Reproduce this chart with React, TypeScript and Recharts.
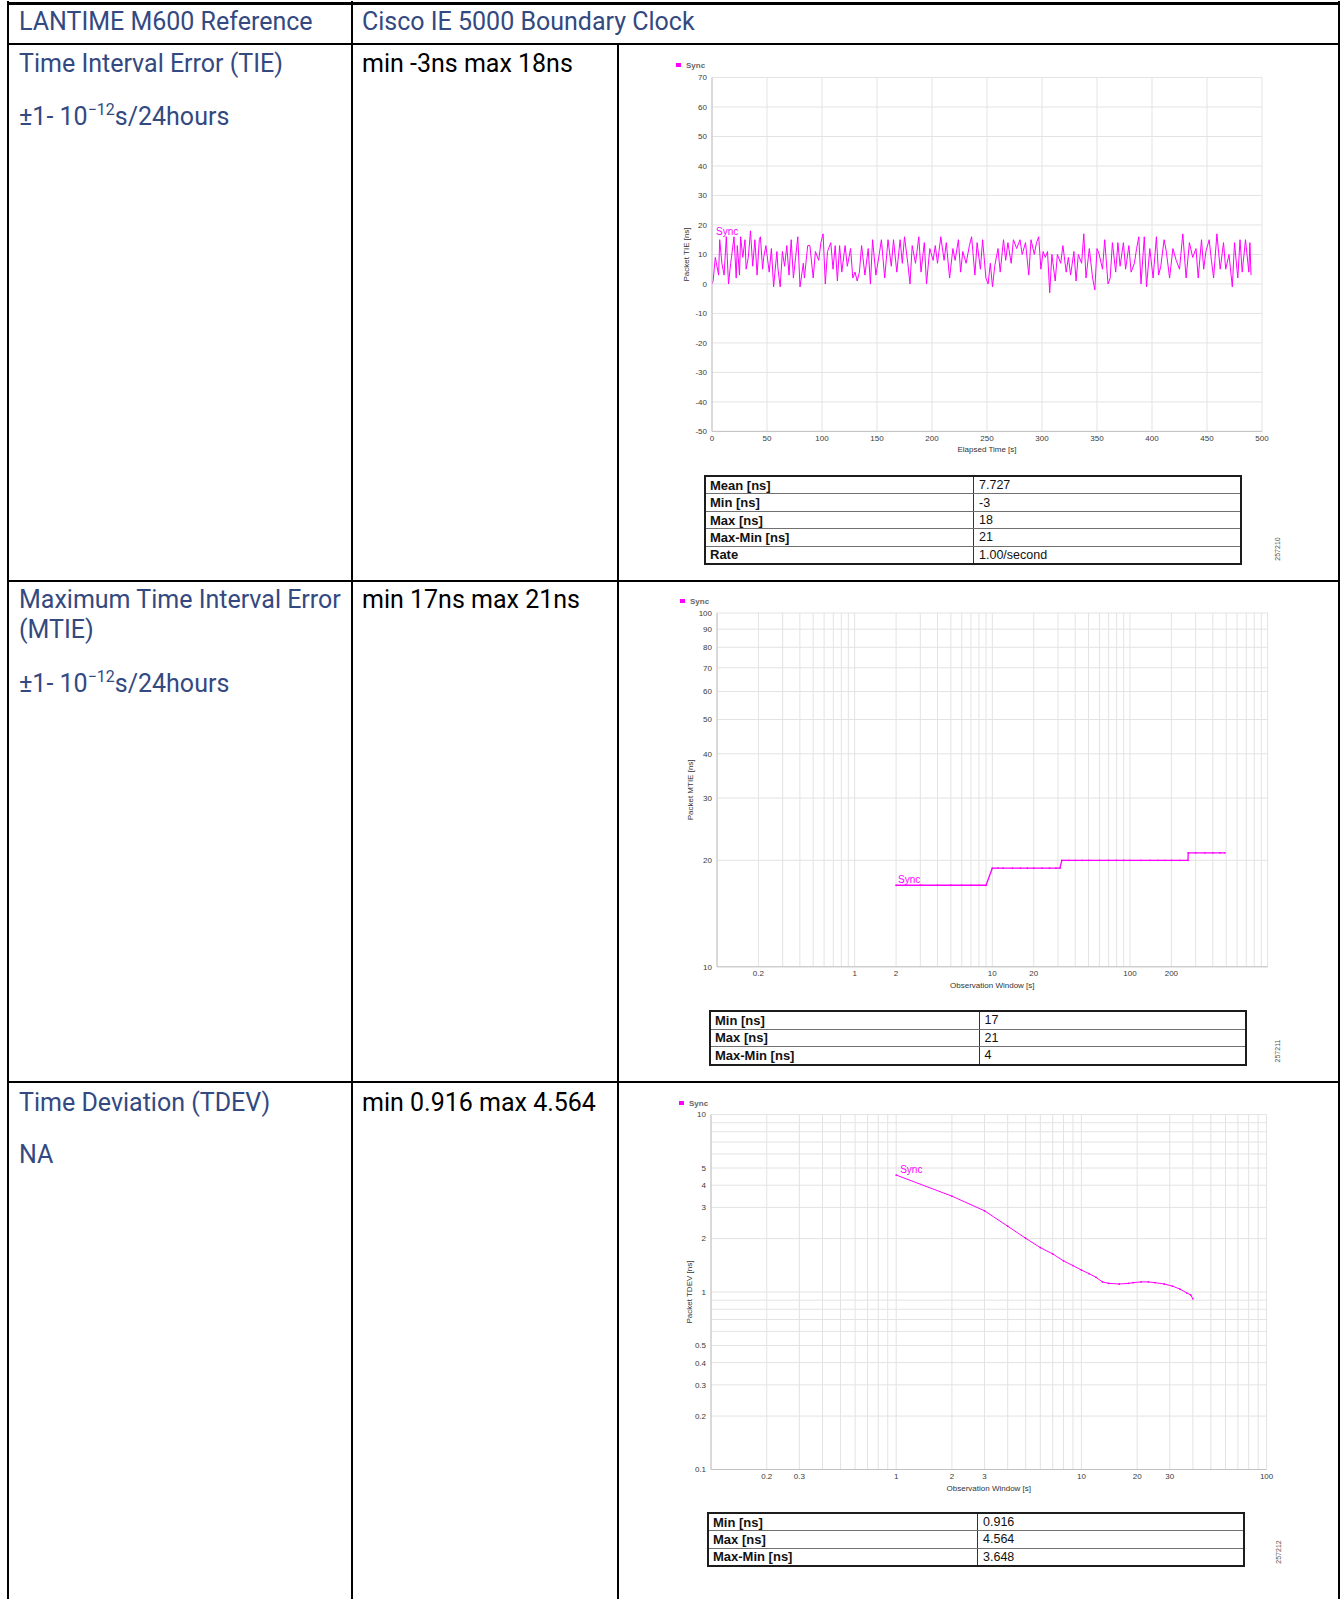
import React from 'react';
import { LineChart, Line, XAxis, YAxis, CartesianGrid } from 'recharts';

const SYNC = '#ff00ff';
const BLUE = '#33497f';
const DOC_FONT = 'Roboto, "Liberation Sans", Arial, sans-serif';
const PLOT_FONT = '"Liberation Sans", Arial, sans-serif';

// TIE: [elapsed time s, TIE ns]
const tiePoints: [number, number][] = [
  [0, 0], [1, 1], [3, 9], [6, 3], [7, 15], [9, 7], [11, 3], [13, 16], [15, 0], [17, 7], [20, 16], [22, 2],
  [23, 13], [25, 3], [26, 16], [28, 9], [30, 15], [31, 5], [33, 9], [35, 18], [37, 6], [39, 15], [41, 3],
  [43, 15], [44, 16], [46, 5], [47, 9], [49, 13], [52, 4], [54, 12], [56, -1], [59, 11], [60, 5], [62, -1],
  [64, 11], [66, 6], [68, 13], [70, 3], [72, 15], [74, 2], [76, 9], [78, 16], [80, -1], [83, 7], [84, 2],
  [87, 13], [89, 13], [92, 2], [94, 11], [97, 8], [99, 14], [101, 17], [103, 0], [105, 11], [108, 14],
  [110, 5], [112, 13], [114, 1], [116, 13], [118, 4], [121, 13], [123, 6], [126, 12], [128, 2], [130, 4],
  [132, 1], [134, 4], [136, 13], [139, 3], [142, 12], [144, 0], [146, 15], [149, 3], [152, 10], [154, 15],
  [157, 2], [160, 15], [163, 6], [165, 15], [168, 4], [171, 15], [173, 7], [175, 16], [178, 7], [180, 0],
  [182, 13], [185, 7], [188, 16], [190, 4], [193, 14], [195, 0], [198, 12], [201, 8], [203, 13], [205, 7],
  [208, 16], [211, 8], [213, 14], [216, 2], [219, 12], [221, 8], [224, 15], [226, 4], [228, 11], [231, 7],
  [234, 13], [236, 16], [239, 3], [241, 14], [244, 5], [246, 15], [249, 2], [251, 0], [253, 7], [255, -1],
  [257, 6], [260, 12], [262, 4], [265, 15], [267, 8], [269, 14], [272, 7], [274, 15], [277, 12], [280, 15],
  [282, 10], [285, 14], [288, 3], [290, 15], [293, 10], [295, 14], [297, 16], [299, 5], [301, 11], [303, 9],
  [305, 11], [307, -3], [309, 10], [312, 1], [314, 10], [317, 7], [319, 13], [322, 4], [324, 9], [326, 3],
  [329, 11], [331, 1], [333, 10], [336, 7], [338, 17], [340, 2], [343, 12], [346, 2], [348, -2], [350, 12],
  [352, 10], [355, 5], [357, 15], [360, 0], [362, 2], [364, 14], [367, 4], [369, 14], [371, 6], [374, 14],
  [376, 5], [379, 13], [381, 4], [384, 7], [386, 12], [388, 16], [390, 0], [393, 16], [395, -1], [398, 12],
  [401, 2], [404, 16], [406, 3], [408, 6], [411, 15], [413, 11], [416, 2], [419, 12], [422, 8], [425, 5],
  [428, 17], [431, 2], [434, 14], [437, 9], [440, 12], [442, 2], [445, 15], [447, 5], [449, 11], [452, 15],
  [454, 8], [456, 2], [459, 17], [462, 5], [465, 14], [467, 5], [470, 10], [473, -1], [475, 14], [478, 2],
  [480, 15], [482, 4], [485, 15], [488, 4], [489, 14], [490, 3],
];
const tieXTicks = [0, 50, 100, 150, 200, 250, 300, 350, 400, 450, 500];
const tieYTicks = [-50, -40, -30, -20, -10, 0, 10, 20, 30, 40, 50, 60, 70];
const tieStats = [
  ['Mean [ns]', '7.727'],
  ['Min [ns]', '-3'],
  ['Max [ns]', '18'],
  ['Max-Min [ns]', '21'],
  ['Rate', '1.00/second'],
];

// MTIE: [observation window s, MTIE ns]
const mtiePoints: [number, number][] = [
  [2, 17], [3, 17], [4, 17], [5, 17], [6, 17], [7, 17], [8, 17], [9, 17],
  [10, 19], [11, 19], [12, 19], [14, 19], [16, 19], [18, 19], [20, 19], [23, 19], [26, 19], [29, 19], [31, 19],
  [32, 20], [36, 20], [40, 20], [45, 20], [50, 20], [60, 20], [70, 20], [80, 20], [90, 20], [100, 20],
  [120, 20], [140, 20], [160, 20], [180, 20], [200, 20], [230, 20], [264, 20],
  [265, 21], [300, 21], [350, 21], [400, 21], [450, 21], [490, 21],
];
const mtieYTicks = [10, 20, 30, 40, 50, 60, 70, 80, 90, 100];
const mtieXGrid = [
  0.1, 0.2, 0.3, 0.4, 0.5, 0.6, 0.7, 0.8, 0.9, 1, 2, 3, 4, 5, 6, 7, 8, 9,
  10, 20, 30, 40, 50, 60, 70, 80, 90, 100, 200, 300, 400, 500, 600, 700, 800, 900, 1000,
];
const mtieXLabels = [0.2, 1, 2, 10, 20, 100, 200];
const mtieStats = [
  ['Min [ns]', '17'],
  ['Max [ns]', '21'],
  ['Max-Min [ns]', '4'],
];

// TDEV: [observation window s, TDEV ns]
const tdevPoints: [number, number][] = [
  [1, 4.564], [2, 3.47], [3, 2.87], [4, 2.35], [5, 2.01], [6, 1.78], [7, 1.64], [8, 1.5], [9, 1.41],
  [10, 1.33], [11, 1.27], [12, 1.21], [13, 1.14], [14, 1.12], [16, 1.11], [18, 1.12], [19, 1.13],
  [21, 1.14], [23, 1.14], [25, 1.13], [28, 1.11], [31, 1.08], [34, 1.04], [37, 0.99], [39, 0.96], [40, 0.916],
];
const tdevYGrid = [0.1, 0.2, 0.3, 0.4, 0.5, 0.6, 0.7, 0.8, 0.9, 1, 2, 3, 4, 5, 6, 7, 8, 9, 10];
const tdevYLabels = [0.1, 0.2, 0.3, 0.4, 0.5, 1, 2, 3, 4, 5, 10];
const tdevXGrid = [
  0.1, 0.2, 0.3, 0.4, 0.5, 0.6, 0.7, 0.8, 0.9, 1, 2, 3, 4, 5, 6, 7, 8, 9,
  10, 20, 30, 40, 50, 60, 70, 80, 90, 100,
];
const tdevXLabels = [0.2, 0.3, 1, 2, 3, 10, 20, 30, 100];
const tdevStats = [
  ['Min [ns]', '0.916'],
  ['Max [ns]', '4.564'],
  ['Max-Min [ns]', '3.648'],
];

const tickStyle = { fontSize: 8, fill: '#3a3a3a', fontFamily: PLOT_FONT };

const syncLabel = (dx: number, dy: number) => (props: any) => {
  if (props.index !== 0) return null;
  const vb = props.viewBox || {};
  const px = props.x ?? vb.x;
  const py = props.y ?? vb.y;
  return (
    <text x={px + dx} y={py + dy} fill={SYNC} fontSize={10} fontFamily={PLOT_FONT}>
      Sync
    </text>
  );
};

interface PlotProps {
  points: [number, number][];
  left: number;
  top: number;
  width: number;
  height: number;
  margin: { top: number; right: number; bottom: number; left: number };
  log?: boolean;
  xDomain: [number, number];
  yDomain: [number, number];
  xTicks: number[];
  yTicks: number[];
  xLabels?: number[];
  yLabels?: number[];
  xTitle: string;
  yTitle: string;
  yTitleOffset: number;
  dots?: boolean;
  strokeWidth: number;
  syncDx: number;
  syncDy: number;
}

function SyncPlot(p: PlotProps) {
  const data = p.points.map(([x, y]) => ({ x, y }));
  const fmt = (labels?: number[]) => (v: number) => (!labels || labels.includes(v) ? String(v) : '');
  const scale = p.log ? 'log' : 'linear';
  return (
    <div style={{ position: 'absolute', left: p.left, top: p.top }}>
      <LineChart width={p.width} height={p.height} data={data} margin={p.margin}>
        <CartesianGrid stroke="#e3e3e3" />
        <XAxis
          type="number"
          dataKey="x"
          scale={scale}
          domain={p.xDomain}
          ticks={p.xTicks}
          interval={0}
          allowDataOverflow
          tickFormatter={fmt(p.xLabels)}
          tick={tickStyle}
          tickLine={false}
          tickSize={2}
          tickMargin={2}
          axisLine={{ stroke: '#c2c2c2' }}
          height={22}
          label={{ value: p.xTitle, position: 'insideBottom', offset: 1, style: { fontSize: 8, fill: '#333', fontFamily: PLOT_FONT } }}
        />
        <YAxis
          type="number"
          scale={scale}
          domain={p.yDomain}
          ticks={p.yTicks}
          interval={0}
          allowDataOverflow
          width={30}
          tickFormatter={fmt(p.yLabels)}
          tick={tickStyle}
          tickLine={false}
          tickSize={3}
          tickMargin={2}
          axisLine={{ stroke: '#c2c2c2' }}
          label={{
            value: p.yTitle,
            angle: -90,
            position: 'insideLeft',
            offset: p.yTitleOffset,
            style: { fontSize: 8, fill: '#333', fontFamily: PLOT_FONT, textAnchor: 'middle' },
          }}
        />
        <Line
          type="linear"
          dataKey="y"
          stroke={SYNC}
          strokeWidth={p.strokeWidth}
          dot={p.dots ? { r: 0.9, fill: SYNC, stroke: 'none' } : false}
          isAnimationActive={false}
          label={syncLabel(p.syncDx, p.syncDy)}
        />
      </LineChart>
    </div>
  );
}

function PlotLegend({ x, y }: { x: number; y: number }) {
  return (
    <div style={{ position: 'absolute', left: x, top: y - 5, height: 10, display: 'flex', alignItems: 'center', fontFamily: PLOT_FONT, fontSize: 8, fontWeight: 'bold', color: '#666' }}>
      <span style={{ display: 'inline-block', width: 5, height: 4, background: SYNC, marginRight: 5 }} />
      Sync
    </div>
  );
}

function StatsTable({ rows, left, top, width, height, split }: { rows: string[][]; left: number; top: number; width: number; height: number; split: number }) {
  return (
    <div style={{ position: 'absolute', left, top, width, height, boxSizing: 'border-box', border: '2px solid #1c1c1c', display: 'flex', flexDirection: 'column', fontFamily: PLOT_FONT, color: '#111' }}>
      {rows.map(([k, v], i) => (
        <div key={k} style={{ flex: 1, display: 'flex', alignItems: 'stretch', borderTop: i ? '1px solid #707070' : 'none' }}>
          <div style={{ width: split, boxSizing: 'border-box', borderRight: '1px solid #333', paddingLeft: 4, fontWeight: 'bold', fontSize: 13, display: 'flex', alignItems: 'center' }}>{k}</div>
          <div style={{ flex: 1, paddingLeft: 5, fontSize: 12.5, display: 'flex', alignItems: 'center' }}>{v}</div>
        </div>
      ))}
    </div>
  );
}

function DocText({ x, y, color, children }: { x: number; y: number; color?: string; children: React.ReactNode }) {
  return (
    <div style={{ position: 'absolute', left: x, top: y, fontFamily: DOC_FONT, fontSize: 25, lineHeight: '30px', color: color || BLUE, whiteSpace: 'nowrap' }}>
      {children}
    </div>
  );
}

function Stability({ y }: { y: number }) {
  return (
    <DocText x={19} y={y}>
      ±1- 10<span style={{ fontSize: 16, position: 'relative', top: -10 }}>−12</span>s/24hours
    </DocText>
  );
}

function ImageId({ x, y, text }: { x: number; y: number; text: string }) {
  return (
    <div style={{ position: 'absolute', left: x - 20, top: y - 5, width: 40, height: 10, lineHeight: '10px', textAlign: 'center', fontFamily: PLOT_FONT, fontSize: 7, color: '#555', transform: 'rotate(-90deg)' }}>
      {text}
    </div>
  );
}

const hLine = (top: number, left: number, width: number, h: number) => (
  <div style={{ position: 'absolute', top, left, width, height: h, background: '#000' }} />
);
const vLine = (left: number, top: number, height: number) => (
  <div style={{ position: 'absolute', top, left, width: 1.5, height, background: '#000' }} />
);

export default function App() {
  return (
    <div style={{ position: 'absolute', left: 0, top: 0, width: 1341, height: 1599, background: '#fff', overflow: 'hidden' }}>
      {hLine(1.5, 7, 1333, 3)}
      {hLine(43, 7, 1333, 2)}
      {hLine(580, 7, 1333, 2)}
      {hLine(1081, 7, 1333, 2)}
      {vLine(7, 1, 1598)}
      {vLine(351, 1, 1598)}
      {vLine(617, 44, 1555)}
      {vLine(1338, 1, 1598)}

      <DocText x={19} y={7}>LANTIME M600 Reference</DocText>
      <DocText x={362} y={7}>Cisco IE 5000 Boundary Clock</DocText>

      <DocText x={19} y={48.5}>Time Interval Error (TIE)</DocText>
      <Stability y={101.5} />
      <DocText x={362} y={48.5} color="#000">min -3ns max 18ns</DocText>

      <DocText x={19} y={585}>Maximum Time Interval Error</DocText>
      <DocText x={19} y={614.5}>(MTIE)</DocText>
      <Stability y={669} />
      <DocText x={362} y={585} color="#000">min 17ns max 21ns</DocText>

      <DocText x={19} y={1087.7}>Time Deviation (TDEV)</DocText>
      <DocText x={19} y={1139.7}>NA</DocText>
      <DocText x={362} y={1087.7} color="#000">min 0.916 max 4.564</DocText>

      <SyncPlot
        points={tiePoints}
        left={655}
        top={55}
        width={620}
        height={410}
        margin={{ top: 22.5, right: 13, bottom: 11.6, left: 27 }}
        xDomain={[0, 500]}
        yDomain={[-50, 70]}
        xTicks={tieXTicks}
        yTicks={tieYTicks}
        xTitle="Elapsed Time [s]"
        yTitle="Packet TIE [ns]"
        yTitleOffset={4}
        strokeWidth={1}
        syncDx={4}
        syncDy={-48.5}
      />
      <PlotLegend x={676} y={65} />
      <StatsTable rows={tieStats} left={704} top={475} width={538} height={90} split={268} />
      <ImageId x={1278} y={549} text="257210" />

      <SyncPlot
        points={mtiePoints}
        left={660}
        top={590}
        width={620}
        height={410}
        margin={{ top: 23, right: 12.4, bottom: 11.2, left: 27 }}
        log
        xDomain={[0.1, 1000]}
        yDomain={[10, 100]}
        xTicks={mtieXGrid}
        yTicks={mtieYTicks}
        xLabels={mtieXLabels}
        xTitle="Observation Window [s]"
        yTitle="Packet MTIE [ns]"
        yTitleOffset={3}
        dots
        strokeWidth={1.3}
        syncDx={2}
        syncDy={-2}
      />
      <PlotLegend x={680} y={601} />
      <StatsTable rows={mtieStats} left={709} top={1010} width={538} height={55.5} split={268.5} />
      <ImageId x={1278} y={1051} text="257211" />

      <SyncPlot
        points={tdevPoints}
        left={660}
        top={1090}
        width={620}
        height={420}
        margin={{ top: 24.6, right: 13.4, bottom: 18.5, left: 21 }}
        log
        xDomain={[0.1, 100]}
        yDomain={[0.1, 10]}
        xTicks={tdevXGrid}
        yTicks={tdevYGrid}
        xLabels={tdevXLabels}
        yLabels={tdevYLabels}
        xTitle="Observation Window [s]"
        yTitle="Packet TDEV [ns]"
        yTitleOffset={8}
        dots
        strokeWidth={1}
        syncDx={4}
        syncDy={-2}
      />
      <PlotLegend x={679} y={1103} />
      <StatsTable rows={tdevStats} left={707} top={1512} width={538} height={55} split={269} />
      <ImageId x={1279} y={1552} text="257212" />
    </div>
  );
}
